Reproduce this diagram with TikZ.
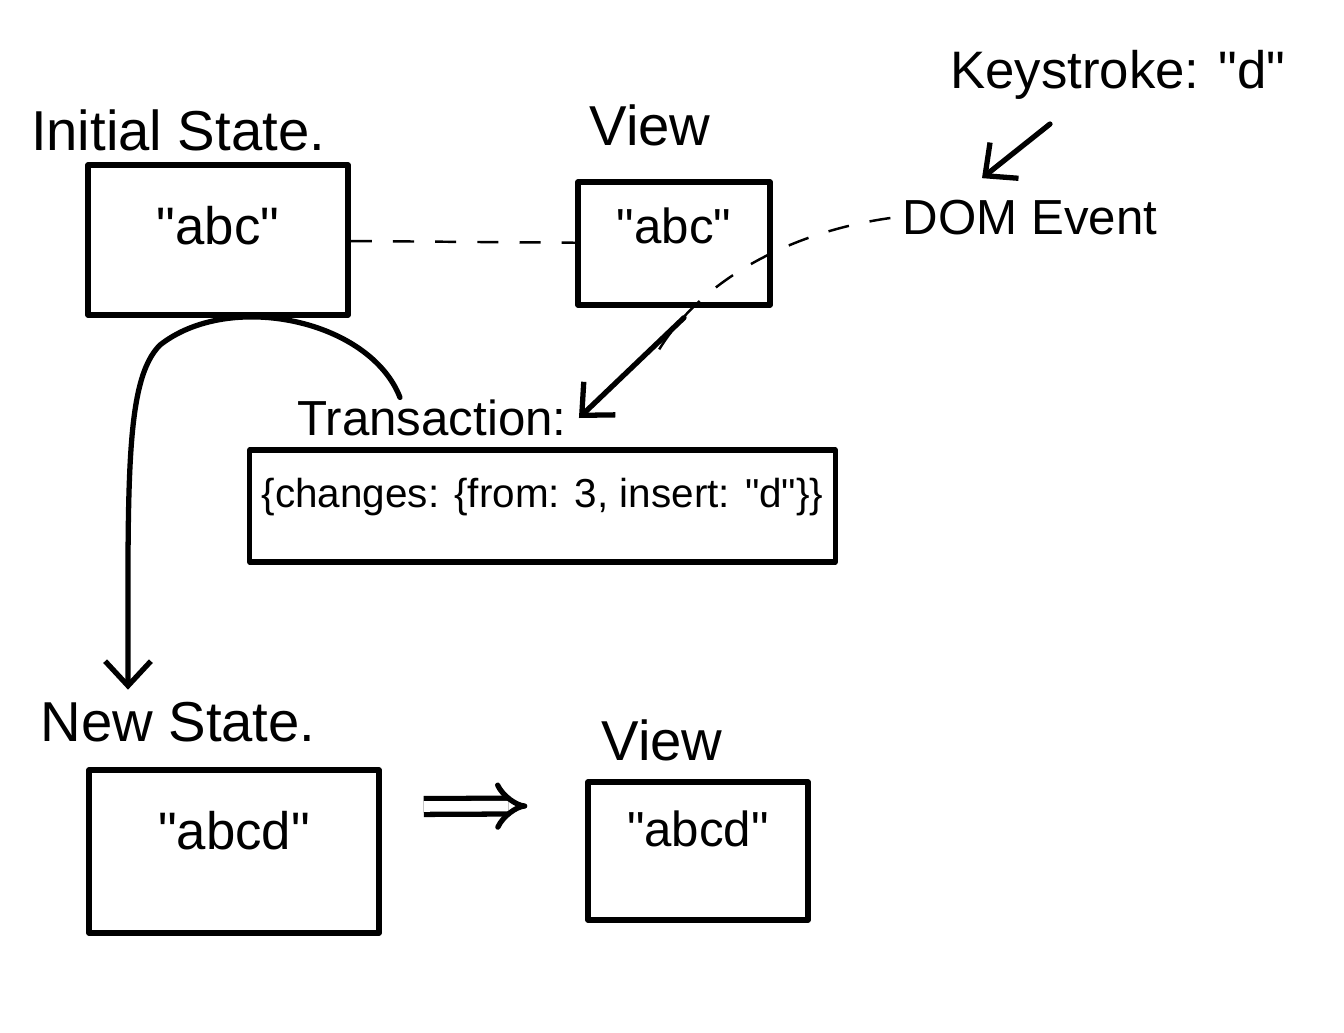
\documentclass[tikz,border=0pt]{standalone}
\usepackage{fontspec}
\setmainfont{Liberation Sans}
\usetikzlibrary{positioning,arrows.meta,calc}

\begin{document}
\begin{tikzpicture}[x=0.01cm, y=-0.01cm,
    sketch/.style={draw=black, line width=1.5pt, line cap=round, line join=round, inner xsep=0pt, inner ysep=0pt},
    heading/.style={font=\fontsize{16}{18}\selectfont},
    hint/.style={line width=0.7pt, dash pattern=on 6pt off 6pt},
    flow/.style={line width=1.5pt, line cap=round, -{Straight Barb[length=7pt,width=13pt]}}]
    \useasboundingbox (0,0) rectangle (1344,1033);

    % 1. Stato iniziale
    \node[heading] (inittitle) at (178,130) {Initial State.};
    \node[sketch, minimum width=2.6cm, text height=0.79cm, text depth=0.71cm,
          font=\fontsize{15}{18}\selectfont] (init) at (218,240) {\textquotedbl abc\textquotedbl};

    % 2. View
    \node[heading] (viewtitle) at (650,125) {View};
    \node[sketch, minimum width=1.92cm, text height=0.61cm, text depth=0.62cm,
          font=\fontsize{14}{17}\selectfont] (view) at (674,243.5) {\textquotedbl abc\textquotedbl};
    \draw[hint] (init) -- (view);

    % 3. Keystroke e DOM event
    \node[font=\fontsize{15}{18}\selectfont] (key) at (1118,75) {Keystroke: \textquotedbl d\textquotedbl};
    \node[font=\fontsize{14}{17}\selectfont] (dom) at (1030,218) {DOM Event};
    \draw[flow] ($(key.south)+(-68,12)$) -- ($(dom.north)+(-48,-10)$);
    \coordinate (fade) at (657,353);
    \draw[hint] (dom.west) .. controls (790,232) and (700,280) .. (fade);

    % 4. Transaction
    \node[font=\fontsize{14}{17}\selectfont] (trlabel) at (432,418) {Transaction:};
    \node[sketch, minimum width=5.85cm, text height=0.57cm, text depth=0.55cm,
          font=\fontsize{11.5}{14}\selectfont] (tr) at (542.5,506)
          {\{changes: \{from: 3, insert: \textquotedbl d\textquotedbl\}\}};
    \draw[flow] ($(view.south)+(10,10)$) -- (trlabel.east);

    % 5. Nuovo stato
    \node[heading] (newtitle) at (178,722) {New State.};
    \node[sketch, minimum width=2.9cm, text height=0.79cm, text depth=0.84cm,
          font=\fontsize{15}{18}\selectfont] (newstate) at (234,851.5) {\textquotedbl abcd\textquotedbl};
    \draw[flow] ($(trlabel.north)+(-32,10)$) .. controls (370,320) and (230,290) .. (160,345)
                .. controls (125,380) and (128,480) .. ($(newtitle.north)+(-50,0)$);

    % 6. Nuova view
    \node[heading] (newviewtitle) at (662,740) {View};
    \node[sketch, minimum width=2.2cm, text height=0.64cm, text depth=0.74cm,
          font=\fontsize{14}{17}\selectfont] (newview) at (698,851) {\textquotedbl abcd\textquotedbl};
    \draw[line width=1.5pt, double, double distance=3pt, -{Implies}]
        ($(newstate.east)+(42,-45)$) -- ($(newview.west)+(-58,-45)$);
\end{tikzpicture}
\end{document}
